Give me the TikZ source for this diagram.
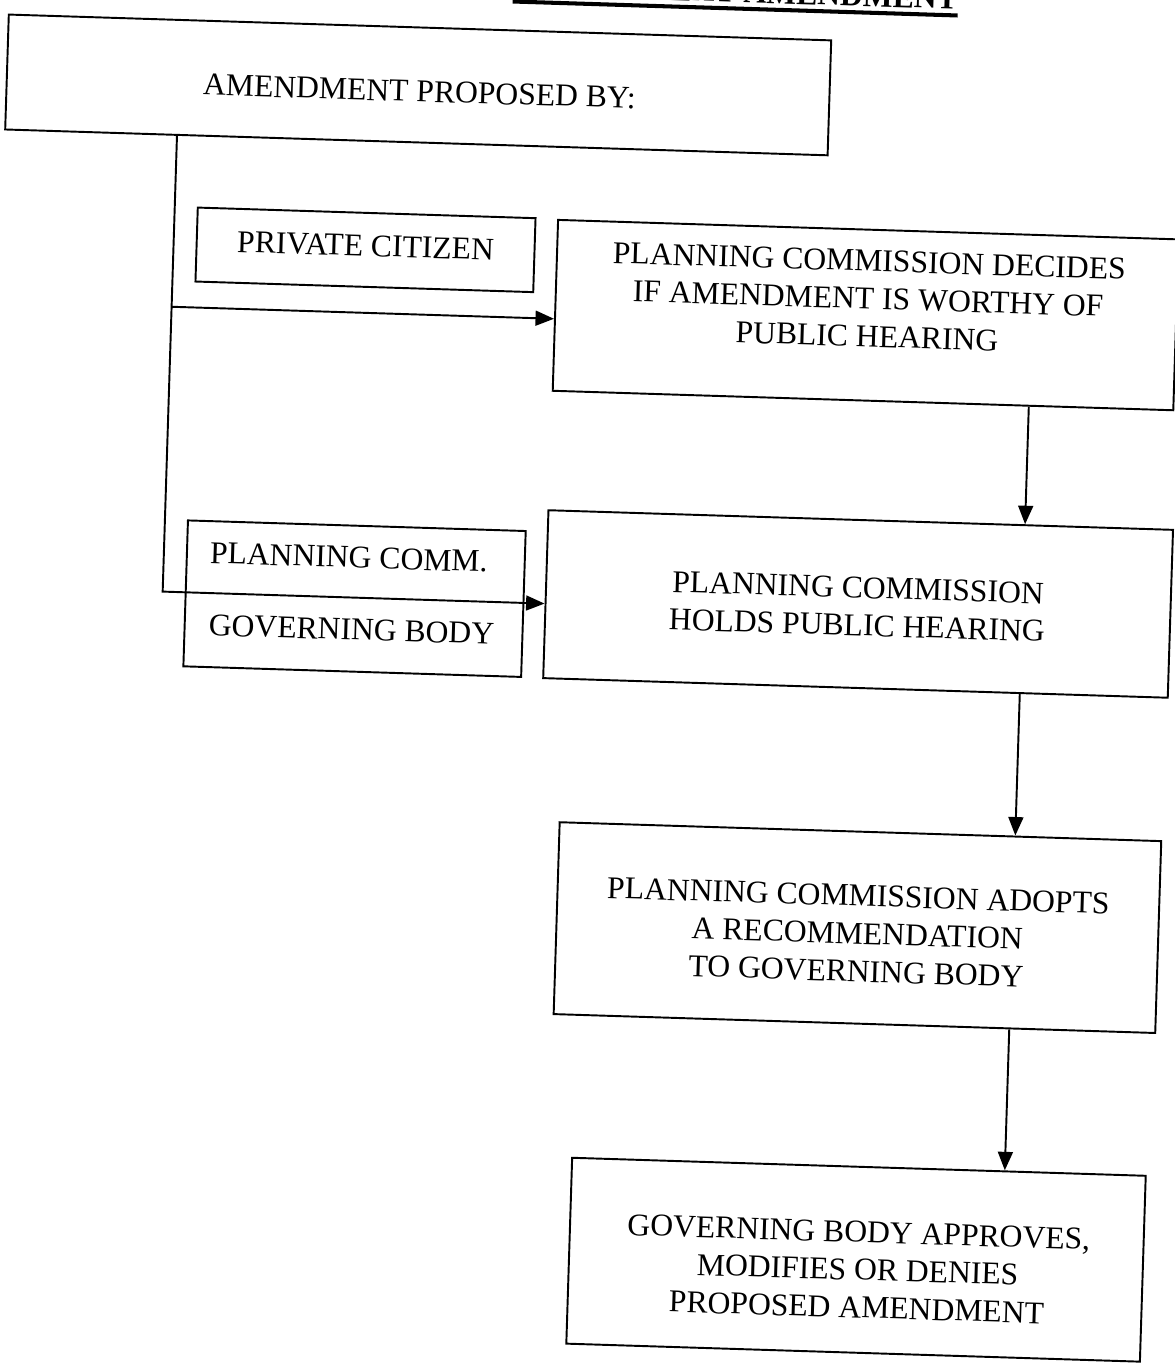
\documentclass[tikz,border=0pt]{standalone}
\usepackage{fontspec}
\setmainfont{Liberation Serif}
\usetikzlibrary{arrows.meta}
\begin{document}
\begin{tikzpicture}[x=0.02cm,y=-0.02cm,
  box/.style={draw, line width=1.1pt, inner sep=0pt, transform shape},
  txt/.style={font=\fontsize{18}{21.5}\selectfont, align=center, inner sep=0pt, transform shape},
  ttl/.style={font=\fontsize{18}{21}\selectfont\bfseries, inner sep=0pt, anchor=base, transform shape},
  arr/.style={line width=1.1pt, -{Triangle[length=10.5pt,width=8.5pt]}},
  conn/.style={line width=1.1pt}]
\useasboundingbox (0,0) rectangle (1175,1366);
\begin{scope}[rotate around={-1.8:(587,683)}]
  % title (mostly above the page)
  \node[ttl] (title) at (714,-2) {ZONING TEXT AMENDMENT};
  \draw[line width=2.3pt] ([yshift=-3.5pt]title.base west) -- ([yshift=-3.5pt]title.base east);
  % boxes
  \node[box, minimum width=16.46cm, minimum height=2.30cm] (A) at (399.5,90.5) {};
  \node[box, minimum width=6.76cm, minimum height=1.48cm] (B) at (352,257) {};
  \node[box, minimum width=12.42cm, minimum height=3.42cm] (C) at (854,306.5) {};
  \node[box, minimum width=6.76cm, minimum height=2.92cm] (D) at (352,606) {};
  \node[box, minimum width=12.5cm, minimum height=3.36cm] (E) at (855.5,595.5) {};
  \node[box, minimum width=12.04cm, minimum height=3.84cm] (F) at (865,919) {};
  \node[box, minimum width=11.48cm, minimum height=3.72cm] (G) at (874,1251) {};
  % texts
  \node[txt] (tA) at (401,97) {AMENDMENT PROPOSED BY:};
  \node[txt] (tB) at (352,253) {PRIVATE CITIZEN};
  \node[txt] (tC) at (856,290) {PLANNING COMMISSION DECIDES\\IF AMENDMENT IS WORTHY OF\\PUBLIC HEARING};
  \node[txt] (tD1) at (345,565) {PLANNING COMM.};
  \node[txt] (tD2) at (350,637) {GOVERNING BODY};
  \node[txt] (tE) at (855,598) {PLANNING COMMISSION\\HOLDS PUBLIC HEARING};
  \node[txt] (tF) at (865,925) {PLANNING COMMISSION ADOPTS\\A RECOMMENDATION\\TO GOVERNING BODY};
  \node[txt] (tG) at (876,1261) {GOVERNING BODY APPROVES,\\MODIFIES OR DENIES\\PROPOSED AMENDMENT};
  % connectors
  \coordinate (j1) at (160,320);
  \coordinate (j2) at (160,605);
  \coordinate (vx) at (1020,0);
  \draw[arr] (A.south -| j1) -- (j2) -- (j2 -| E.west);
  \draw[arr] (j1) -- (j1 -| C.west);
  \draw[arr] (C.south -| vx) -- (E.north -| vx);
  \draw[arr] (E.south -| vx) -- (F.north -| vx);
  \draw[arr] (F.south -| vx) -- (G.north -| vx);
\end{scope}
\end{tikzpicture}
\end{document}
